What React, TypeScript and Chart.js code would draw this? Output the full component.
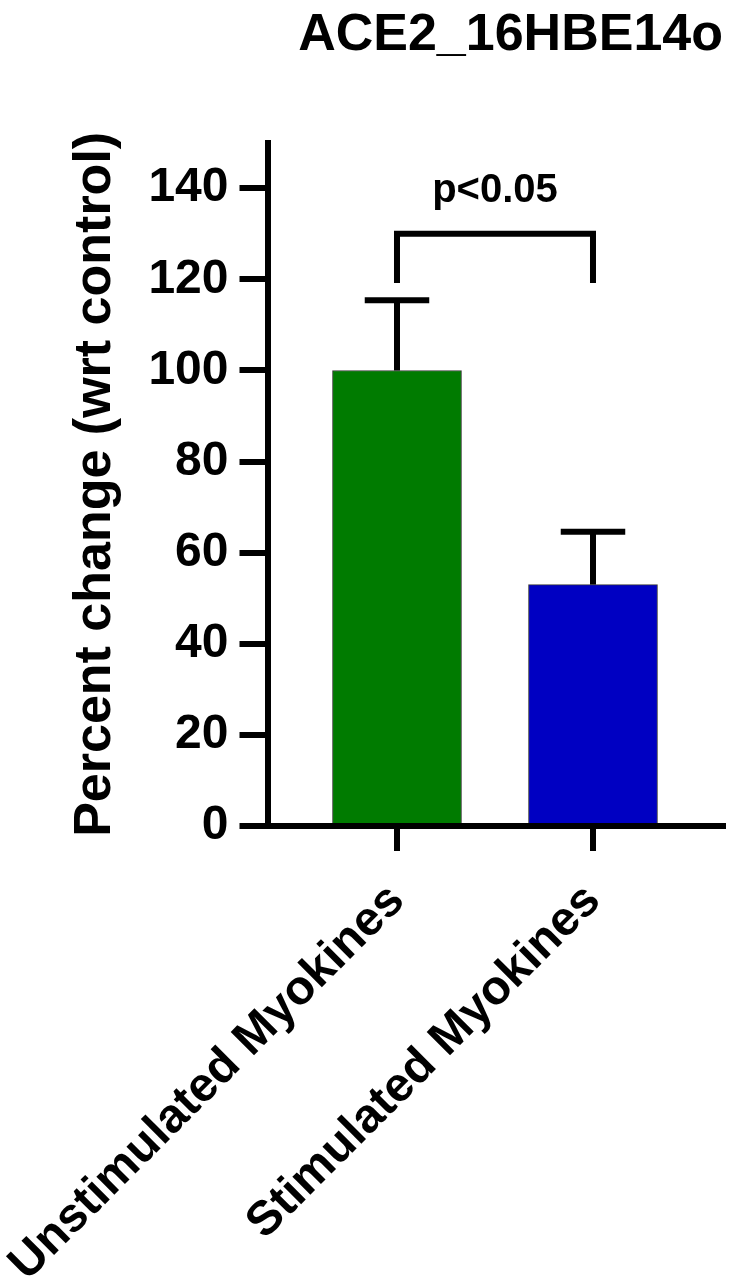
import React, { useEffect, useRef } from 'react';
import { Chart, registerables } from 'chart.js';

Chart.register(...registerables);

// ---- data ----
const chartTitle = 'ACE2_16HBE14o';
const yAxisTitle = 'Percent change (wrt control)';
const categories = ['Unstimulated Myokines', 'Stimulated Myokines'];
const xPositions = [0, 1];
const means = [100, 53];
const sems = [15.4, 11.6];
const barColors = ['#007b00', '#0000c2'];
const yTicks = [0, 20, 40, 60, 80, 100, 120, 140];
const yMin = 0;
const yMax = 150;
const sigLabel = 'p<0.05';
const sigPair = [0, 1];
const sigBracketY = 130;
const sigLegEndY = [119.2, 119.2];
const sigLabelY = 137;

const FONT = '"Liberation Sans", Arial, Helvetica, sans-serif';

const errorBarPlugin = {
  id: 'errorBarsAndSig',
  afterDatasetsDraw(chart: any) {
    const { ctx } = chart;
    const xs = chart.scales.x;
    const ys = chart.scales.y;
    ctx.save();
    ctx.strokeStyle = '#000';
    ctx.lineWidth = 6;
    ctx.lineCap = 'butt';
    ctx.lineJoin = 'miter';
    const barW = chart.data.datasets[0].barThickness || 129;
    const capHalf = barW / 4;
    means.forEach((m, i) => {
      const x = xs.getPixelForValue(xPositions[i]);
      const yb = ys.getPixelForValue(m);
      const yt = ys.getPixelForValue(m + sems[i]);
      ctx.beginPath();
      ctx.moveTo(x, yb);
      ctx.lineTo(x, yt);
      ctx.stroke();
      ctx.beginPath();
      ctx.moveTo(x - capHalf, yt);
      ctx.lineTo(x + capHalf, yt);
      ctx.stroke();
    });
    // significance bracket
    const x0 = xs.getPixelForValue(xPositions[sigPair[0]]);
    const x1 = xs.getPixelForValue(xPositions[sigPair[1]]);
    const yTop = ys.getPixelForValue(sigBracketY);
    ctx.beginPath();
    ctx.moveTo(x0, ys.getPixelForValue(sigLegEndY[0]));
    ctx.lineTo(x0, yTop);
    ctx.lineTo(x1, yTop);
    ctx.lineTo(x1, ys.getPixelForValue(sigLegEndY[1]));
    ctx.stroke();
    ctx.fillStyle = '#000';
    ctx.font = `bold 40px ${FONT}`;
    ctx.textAlign = 'center';
    ctx.textBaseline = 'alphabetic';
    ctx.fillText(sigLabel, (x0 + x1) / 2, ys.getPixelForValue(sigLabelY));
    ctx.restore();
  },
};

export default function App() {
  const canvasRef = useRef<HTMLCanvasElement | null>(null);

  useEffect(() => {
    const canvas = canvasRef.current;
    if (!canvas) return;
    const chart = new Chart(canvas, {
      type: 'bar',
      data: {
        datasets: [
          {
            data: means.map((m, i) => ({ x: xPositions[i], y: m })),
            backgroundColor: barColors,
            borderColor: '#3a3a3a',
            borderWidth: 1,
            barThickness: 129,
          } as any,
        ],
      },
      options: {
        animation: false,
        responsive: false,
        devicePixelRatio: 1,
        layout: { padding: { left: 64, right: 10, top: 0, bottom: 0 } },
        plugins: {
          legend: { display: false },
          tooltip: { enabled: false },
          title: {
            display: true,
            text: chartTitle,
            align: 'end',
            color: '#000',
            font: { family: FONT, size: 52, weight: 'bold' },
            padding: { top: 4, bottom: 76.3 },
          },
        },
        scales: {
          x: {
            type: 'linear',
            offset: false,
            min: -0.6607,
            max: 1.6633,
            afterBuildTicks: (scale: any) => {
              scale.ticks = xPositions.map((v) => ({ value: v }));
            },
            afterFit: (scale: any) => {
              scale.height = 455;
              scale.paddingLeft = 0;
              scale.paddingRight = 0;
            },
            ticks: {
              autoSkip: false,
              minRotation: 45,
              maxRotation: 45,
              padding: 22,
              color: '#000',
              font: { family: FONT, size: 48, weight: 'bold' },
              callback: (v: any) => {
                const idx = xPositions.indexOf(Number(v));
                return idx >= 0 ? categories[idx] : '';
              },
            },
            grid: {
              offset: false,
              drawOnChartArea: false,
              drawTicks: true,
              tickLength: 25,
              lineWidth: 6,
              color: '#000',
            },
            border: { display: true, width: 6, color: '#000' },
          },
          y: {
            type: 'linear',
            min: yMin,
            max: yMax,
            afterBuildTicks: (scale: any) => {
              scale.ticks = yTicks.map((v) => ({ value: v }));
            },
            afterFit: (scale: any) => {
              scale.width = 203.5;
            },
            ticks: {
              padding: 11,
              color: '#000',
              font: { family: FONT, size: 48, weight: 'bold' },
            },
            grid: {
              drawOnChartArea: false,
              drawTicks: true,
              tickLength: 28,
              lineWidth: 6,
              color: '#000',
            },
            border: { display: true, width: 6, color: '#000' },
            title: {
              display: true,
              text: yAxisTitle,
              color: '#000',
              font: { family: FONT, size: 52, weight: 'bold' },
              padding: { top: 0, bottom: 0 },
            },
          },
        },
      } as any,
      plugins: [errorBarPlugin],
    });
    return () => chart.destroy();
  }, []);

  return (
    <div style={{ position: 'fixed', left: 0, top: 0, width: 733, height: 1281, background: '#fff' }}>
      <canvas ref={canvasRef} width={733} height={1281} style={{ display: 'block' }} />
    </div>
  );
}
